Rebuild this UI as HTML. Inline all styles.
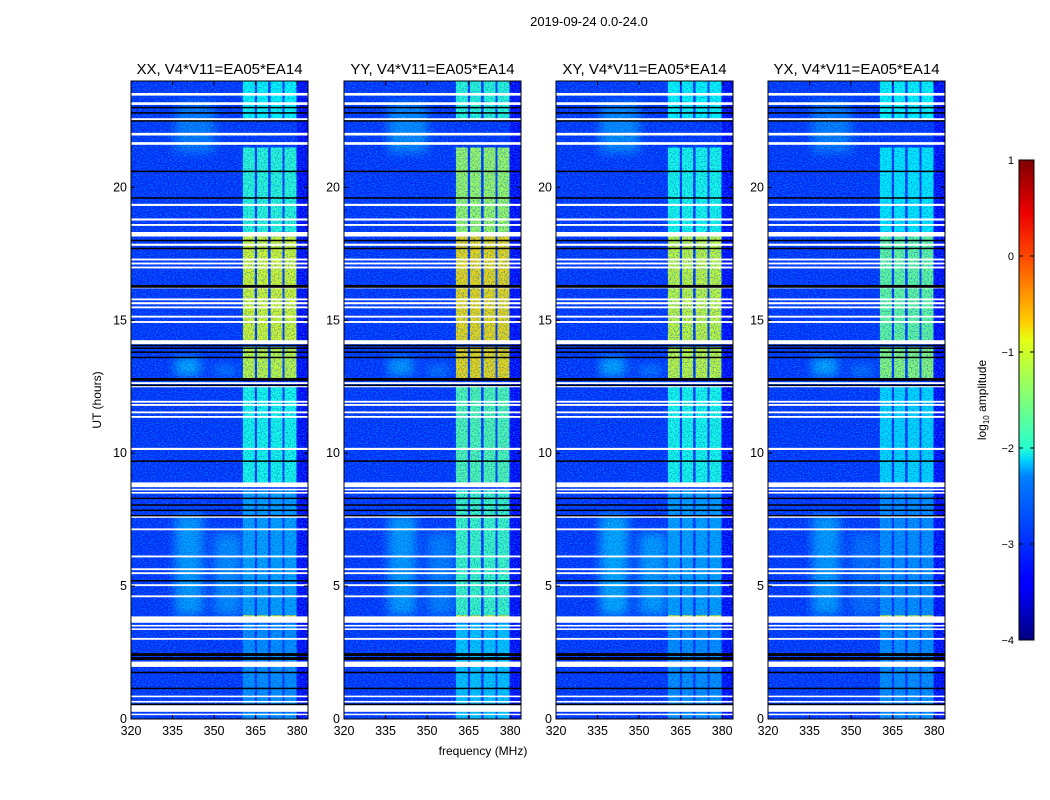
<!DOCTYPE html>
<html><head><meta charset="utf-8"><style>
body{margin:0;background:#fff;}
svg{display:block;font-family:"Liberation Sans","DejaVu Sans",sans-serif;}
</style></head><body>
<svg id="fig" width="1050" height="800" viewBox="0 0 1050 800" xmlns="http://www.w3.org/2000/svg">
<defs>
<filter id="noise" x="0" y="0" width="100%" height="100%">
<feTurbulence type="fractalNoise" baseFrequency="0.6 0.9" numOctaves="1" seed="3"/>
<feColorMatrix values="0 0 0 0 0  0 0 0 0 0.6  0 0 0 0 1  0 0 0 2.6 -1.1"/>
</filter>
<filter id="noise2" x="0" y="0" width="100%" height="100%">
<feTurbulence type="fractalNoise" baseFrequency="0.7 0.8" numOctaves="1" seed="11"/>
<feColorMatrix values="0 0 0 0 0  0 0 0 0 0  0 0 0 0 0.5  0 0 0 2.6 -1.2"/>
</filter>
<filter id="blur"><feGaussianBlur stdDeviation="5"/></filter>
<linearGradient id="jet" x1="0" y1="1" x2="0" y2="0">
<stop offset="0" stop-color="#00007f"/><stop offset="0.11" stop-color="#0000ff"/><stop offset="0.125" stop-color="#0000ff"/>
<stop offset="0.34" stop-color="#0080ff"/><stop offset="0.375" stop-color="#00d4ff"/><stop offset="0.4" stop-color="#26ffd0"/>
<stop offset="0.5" stop-color="#7dff7a"/><stop offset="0.625" stop-color="#e4ff13"/><stop offset="0.66" stop-color="#ffd000"/>
<stop offset="0.8" stop-color="#ff4700"/><stop offset="0.89" stop-color="#ed0000"/><stop offset="1" stop-color="#7f0000"/>
</linearGradient>
</defs>
<text x="589" y="26" font-size="13" text-anchor="middle">2019-09-24 0.0-24.0</text>
<text x="483" y="755" font-size="12" text-anchor="middle">frequency (MHz)</text>
<text x="101" y="400" font-size="12" text-anchor="middle" transform="rotate(-90 101 400)">UT (hours)</text>
<g id="panels"></g>
<g id="cbar">
<rect x="1019" y="160" width="15" height="480" fill="url(#jet)" stroke="#000" stroke-width="1"/>
<text x="986" y="400" font-size="12" text-anchor="middle" transform="rotate(-90 986 400)">log<tspan font-size="8" dy="3">10</tspan><tspan dy="-3"> amplitude</tspan></text>
</g>
</svg>
<script>
// ---- data ----
const panelTitles = ["XX, V4*V11=EA05*EA14","YY, V4*V11=EA05*EA14","XY, V4*V11=EA05*EA14","YX, V4*V11=EA05*EA14"];
const xTicks = [320,335,350,365,380];
const yTicks = [0,5,10,15,20];
const cbarTicks = [1,0,-1,-2,-3,-4];
const bandRanges = [[360.4,364.7],[365.5,369.5],[370.4,374.7],[375.4,379.7]];
const segmentHours = [[22.5,24],[18.3,21.5],[14.2,18.2],[12.8,14.0],[8.9,12.5],[3.9,8.6],[3.8,3.9],[2.2,2.6],[0,3.6]];
const bandLevelsXX = [-2.1,-1.9,-1.0,-1.1,-2.0,-2.6,-0.9,-1.9,-2.7];
const bandLevelsYY = [-1.9,-1.3,-0.7,-0.7,-1.7,-1.8,-0.9,-1.8,-2.4];
const bandLevelsXY = [-2.1,-2.0,-1.1,-1.1,-2.0,-2.6,-0.9,-1.9,-2.7];
const bandLevelsYX = [-2.1,-2.2,-1.6,-1.4,-2.3,-2.7,-1.0,-2.1,-2.7];
const blobs = [[336,346,3.9,7.7],[350,360,3.9,7.0],[336,350,21.3,23.2],[336,345,12.9,13.6],[350,358,12.9,13.3]];
const blobLevelsXX = [-2.5,-2.6,-2.7,-2.4,-2.7];
const blobLevelsYY = [-2.5,-2.7,-2.6,-2.5,-2.7];
const blobLevelsXY = [-2.4,-2.5,-2.6,-2.4,-2.7];
const blobLevelsYX = [-2.5,-2.8,-2.7,-2.4,-2.7];
const whiteFlags = [[23.45,23.55],[23.1,23.2],[22.5,22.6],[21.95,22.05],[21.6,21.7],[19.3,19.38],[18.75,18.83],[18.55,18.62],[18.15,18.32],[17.8,17.88],[17.25,17.32],[17.1,17.17],[16.95,17.02],[16.2,16.27],[15.75,15.82],[15.6,15.68],[15.45,15.52],[15.1,15.17],[14.9,14.97],[14.1,14.25],[12.6,12.67],[12.48,12.55],[11.9,11.97],[11.78,11.85],[11.5,11.57],[11.33,11.4],[10.12,10.2],[8.72,8.9],[8.6,8.66],[8.48,8.54],[7.57,7.65],[7.1,7.17],[6.08,6.15],[5.6,5.67],[5.45,5.52],[5.0,5.07],[4.58,4.65],[3.62,3.86],[3.48,3.54],[3.35,3.41],[2.98,3.05],[1.96,2.16],[0.82,0.88],[0.62,0.68],[0.27,0.52],[0.15,0.2]];
const blackLines = [23.0,22.8,22.5,20.6,19.6,18.0,17.7,16.3,16.25,14.05,13.95,13.8,13.6,12.8,12.75,12.55,9.7,8.3,8.05,7.85,7.65,5.2,2.45,2.4,2.3,2.25,1.75,1.15,0.55];
const bgLevel = -3.15;

// ---- scales ----
const panelX = [131,344,556,768];
const PW = 177, PT = 81, PB = 719;
const fx = (x0,f)=>x0+(f-320)*2.77;
const hy = h=>PB-(h/24)*(PB-PT);
const cy = v=>640-(v+4)/5*480;
function jet(v){
  let t=(v+4)/5; t=Math.max(0,Math.min(1,t));
  const c=x=>Math.round(255*Math.max(0,Math.min(1,x)));
  const r=c(Math.min(4*t-1.5,-4*t+4.5)), g=c(Math.min(4*t-0.5,-4*t+3.5)), b=c(Math.min(4*t+0.5,-4*t+2.5));
  return `rgb(${r},${g},${b})`;
}
const NS="http://www.w3.org/2000/svg";
function mk(tag,attrs,parent){const e=document.createElementNS(NS,tag);for(const k in attrs)e.setAttribute(k,attrs[k]);parent.appendChild(e);return e;}

const bandSets=[bandLevelsXX,bandLevelsYY,bandLevelsXY,bandLevelsYX];
const blobSets=[blobLevelsXX,blobLevelsYY,blobLevelsXY,blobLevelsYX];
const root=document.getElementById('panels');
panelX.forEach((x0,pi)=>{
  const g=mk('g',{},root);
  
  
  const clipId='clip'+pi;
  const cp=mk('clipPath',{id:clipId},g); mk('rect',{x:x0,y:PT,width:PW,height:PB-PT},cp);
  const plot=mk('g',{'clip-path':`url(#${clipId})`},g);
  const bg=mk('rect',{x:x0,y:PT,width:PW,height:PB-PT,fill:jet(bgLevel)},plot);
  
  
  mk('rect',{x:fx(x0,380),y:PT,width:x0+PW-fx(x0,380),height:PB-PT,fill:jet(bgLevel-0.25)},plot);
  const bl=mk('g',{filter:'url(#blur)',opacity:0.8},plot);
  blobs.forEach((b,i)=>{
    const r=mk('rect',{x:fx(x0,b[0]),y:hy(b[3]),width:fx(x0,b[1])-fx(x0,b[0]),height:hy(b[2])-hy(b[3]),fill:jet(blobSets[pi][i])},bl);
    
    
  });
  segmentHours.forEach((s,si)=>{
    bandRanges.forEach(br=>{
      const r=mk('rect',{x:fx(x0,br[0]),y:hy(s[1]),width:fx(x0,br[1])-fx(x0,br[0]),height:hy(s[0])-hy(s[1]),fill:jet(bandSets[pi][si])},plot);
      
      
    });
  });
  mk('rect',{x:x0,y:PT,width:PW,height:PB-PT,filter:'url(#noise)',opacity:0.6},plot);
  mk('rect',{x:x0,y:PT,width:PW,height:PB-PT,filter:'url(#noise2)',opacity:0.5},plot);
  whiteFlags.forEach(w=>{
    const r=mk('rect',{x:x0,y:hy(w[1]),width:PW,height:Math.max(1.5,hy(w[0])-hy(w[1])),fill:'#fff'},plot);
    
    
  });
  blackLines.forEach(h=>{
    const r=mk('rect',{x:x0,y:hy(h)-0.75,width:PW,height:1.5,fill:'#000'},plot);
    
    
  });
  const fr=mk('rect',{x:x0,y:PT,width:PW,height:PB-PT,fill:'none',stroke:'#000','stroke-width':1},g);
  
  
  const t=mk('text',{x:x0+PW/2,y:74,'font-size':15,'text-anchor':'middle'},g);
  t.textContent=panelTitles[pi];
  
  
  xTicks.forEach(v=>{
    const x=fx(x0,v);
    mk('line',{x1:x,x2:x,y1:PB,y2:PB-4,stroke:'#000'},g);
    mk('line',{x1:x,x2:x,y1:PT,y2:PT+4,stroke:'#000'},g);
    const tx=mk('text',{x:x,y:PB+16,'font-size':12.5,'text-anchor':'middle'},g);
    tx.textContent=v;
    
    
  });
  yTicks.forEach(v=>{
    const y=hy(v);
    mk('line',{x1:x0,x2:x0+4,y1:y,y2:y,stroke:'#000'},g);
    mk('line',{x1:x0+PW,x2:x0+PW-4,y1:y,y2:y,stroke:'#000'},g);
    const ty=mk('text',{x:x0-4,y:y+4,'font-size':12.5,'text-anchor':'end'},g);
    ty.textContent=v;
    
    
  });
});
const cb=document.getElementById('cbar');
cbarTicks.forEach(v=>{
  const y=cy(v);
  mk('line',{x1:1019,x2:1023,y1:y,y2:y,stroke:'#000'},cb);
  mk('line',{x1:1034,x2:1030,y1:y,y2:y,stroke:'#000'},cb);
  const t=mk('text',{x:1014,y:y+4,'font-size':11,'text-anchor':'end'},cb);
  t.textContent=v<0?'\u2212'+(-v):String(v);
  
  
});
</script>
</body></html>
